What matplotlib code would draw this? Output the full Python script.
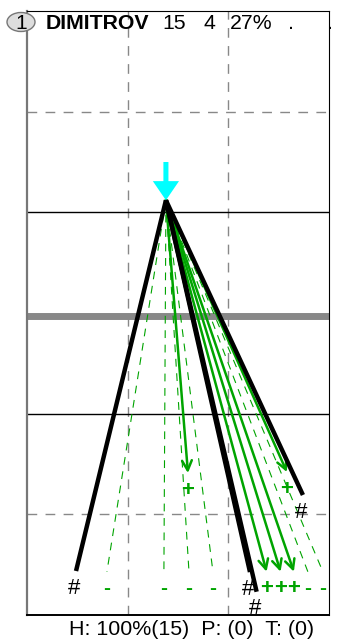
import matplotlib.pyplot as plt
from matplotlib.patches import Ellipse

plt.rcParams['font.family'] = ['Liberation Sans', 'DejaVu Sans']

# header / footer text
player = 'DIMITROV'
header_vals = ['15', '4', '27%', '.', '.']
header_x = [162, 203, 230, 288, 327]   # pixel positions of the header values
footer = 'H: 100%(15)  P: (0)  T: (0)'

# origin of all shots (court units)
apex_x, apex_y = 1.38, 4.12

# shots ending in '#' (black thick lines)
black_x = [0.487, 2.215, 2.281, 2.741]
black_y = [0.437, 0.427, 0.231, 1.192]

# shots ending in '+' (green arrows)
plus_x = [1.599, 2.582, 2.380, 2.519, 2.651]
plus_y = [1.410, 1.420, 0.430, 0.430, 0.430]

# shots ending in '-' (green dashed lines)
minus_x = [0.794, 1.360, 1.609, 1.847, 2.790, 2.939]
minus_y = [0.43, 0.43, 0.43, 0.43, 0.43, 0.43]

green = '#00a400'
lab_off = 0.17

fig = plt.figure(figsize=(3.37, 6.40), dpi=100)
ax = fig.add_axes([27 / 337, 25 / 640, 302 / 337, 604 / 640])
ax.set_xlim(0, 3)
ax.set_ylim(0, 6)
ax.set_xticks([])
ax.set_yticks([])

# court lines
for gx in [1, 2]:
    ax.axvline(gx, color='#888888', lw=1, ls=(0, (7, 6)), zorder=1)
for gy in [1, 5]:
    ax.axhline(gy, color='#888888', lw=1, ls=(0, (7, 6)), zorder=1)
for gy in [2, 4]:
    ax.axhline(gy, color='black', lw=1, zorder=1)
ax.axhline(2.97, color='#888888', lw=5, zorder=1)

# dashed green shots
for x, y in zip(minus_x, minus_y):
    ax.plot([apex_x, x], [apex_y, y], color=green, lw=0.8,
            ls=(0, (7, 6)), zorder=2)
    ax.text(x, y - lab_off, '-', color=green, fontsize=15,
            ha='center', va='center', fontweight='bold', zorder=5)

# green arrow shots
for x, y in zip(plus_x, plus_y):
    ax.annotate('', xy=(x, y), xytext=(apex_x, apex_y),
                arrowprops=dict(arrowstyle='->,head_length=0.7,head_width=0.35',
                                color=green, lw=1.8, shrinkA=0, shrinkB=0),
                zorder=3)
    ax.text(x, y - lab_off, '+', color=green, fontsize=16,
            ha='center', va='center', fontweight='bold', zorder=5)

# black shots
for x, y in zip(black_x, black_y):
    ax.plot([apex_x, x], [apex_y, y], color='black', lw=3.2,
            solid_capstyle='butt', zorder=4)
    ax.text(x - 0.02, y - lab_off, '#', color='black', fontsize=16,
            ha='center', va='center', zorder=5)

# serve arrow
ax.arrow(apex_x, apex_y + 0.38, 0, -0.38, width=0.05, head_width=0.26,
         head_length=0.19, length_includes_head=True, color='cyan',
         lw=0, zorder=6)

for side in ['top', 'right']:
    ax.spines[side].set_linewidth(0.8)
ax.spines['left'].set_color('#777777')
ax.spines['left'].set_linewidth(1.6)
ax.spines['bottom'].set_linewidth(1.4)

# header
fig.patches.append(Ellipse((21 / 337, 1 - 22 / 640), 28 / 337, 19 / 640,
                           transform=fig.transFigure, facecolor='#dddddd',
                           edgecolor='#777777', lw=1, zorder=10))
fig.text(21 / 337, 1 - 29 / 640, '1', fontsize=15, ha='center',
         va='baseline', zorder=11)
fig.text(46 / 337, 1 - 29 / 640, player, fontsize=15.3, fontweight='bold',
         va='baseline')
for px, s in zip(header_x, header_vals):
    fig.text(px / 337, 1 - 29 / 640, s, fontsize=15.3, va='baseline')

fig.text(69 / 337, 1 - 635 / 640, footer, fontsize=15.4, va='baseline')

fig.savefig('out.png', dpi=100)
